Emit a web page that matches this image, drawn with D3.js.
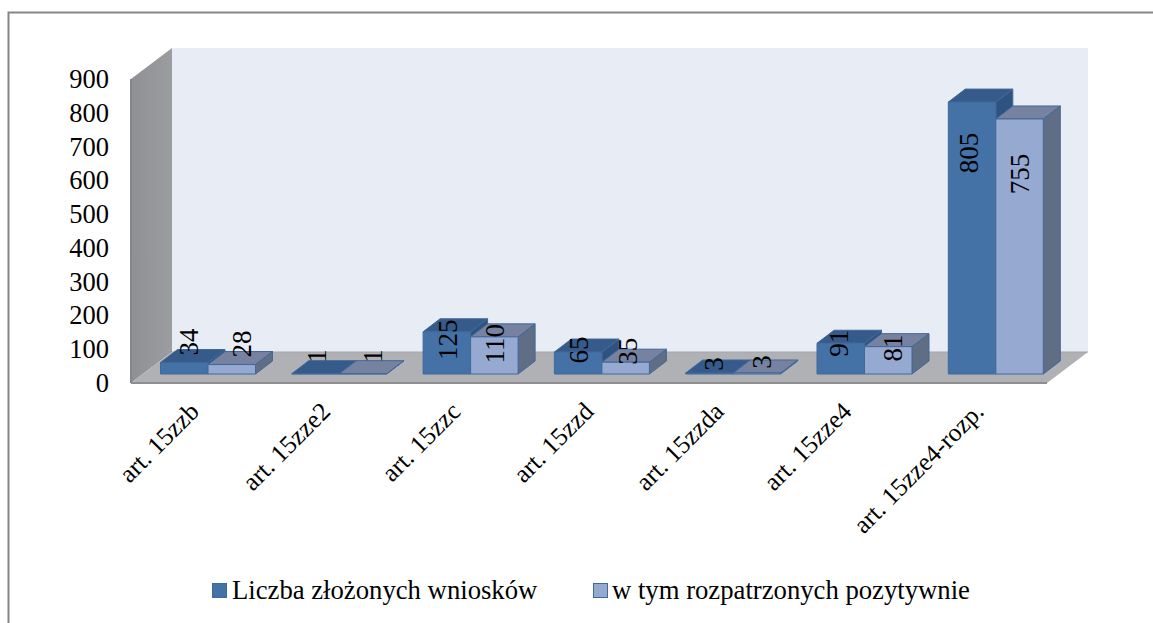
<!DOCTYPE html>
<html><head><meta charset="utf-8">
<script src="https://cdn.jsdelivr.net/npm/d3@7/dist/d3.min.js"></script>
<style>html,body{margin:0;padding:0;background:#fff}svg{display:block}text{font-family:"Liberation Serif",serif;fill:#000}</style>
</head><body><div id="c"></div>
<script>
const categories=["art. 15zzb","art. 15zze2","art. 15zzc","art. 15zzd","art. 15zzda","art. 15zze4","art. 15zze4-rozp."];
const submitted=[34,1,125,65,3,91,805];
const approved=[28,1,110,35,3,81,755];
const seriesNames=["Liczba złożonych wniosków","w tym rozpatrzonych pozytywnie"];
const yTicks=[0,100,200,300,400,500,600,700,800,900];
// label placement offsets (px) relative to the bar's top front edge and centre
const nudgeA=[-20.5,-17.7,8,-2,-9,0,51];
const nudgeB=[-20.5,-17.7,7,-11,-11,1.4,55];
const nudgeXA=[4.75,1.5,1,1,4.5,-2,-3];
const nudgeXB=[10.25,10,1,2.5,5,5,0];
const catEnd=[40,40,39,40.5,39.5,36,37];

const W=1153,H=623;
const svg=d3.select("#c").append("svg").attr("width",W).attr("height",H);
const defs=svg.append("defs");
const lg=defs.append("linearGradient").attr("id","wall").attr("x1",0).attr("x2",1).attr("y1",0).attr("y2",0);
lg.append("stop").attr("offset",0).attr("stop-color","#8f9094");
lg.append("stop").attr("offset",1).attr("stop-color","#9c9da1");

svg.append("path").attr("d",`M8.5 ${H}V12.5H${W}`).attr("fill","none").attr("stroke","#858585").attr("stroke-width",2);

const wallDX=41,wallDY=31;
const yFront=d3.scaleLinear().domain([0,900]).range([383,79]);   // axis edge
const yBar=d3.scaleLinear().domain([0,900]).range([374,70]);     // bar plane
const x=d3.scaleBand().domain(categories).range([160.5,1079.6]).paddingInner(0).paddingOuter(0);
const barW=47.5, dx=17, dy=13;
const poly=(pts,fill,stroke)=>svg.append("polygon").attr("points",pts.map(p=>p.join(",")).join(" ")).attr("fill",fill).attr("stroke",stroke||"none");

const y0=yFront(0),yT=yFront(900),xL=131;
const xR=1047;
poly([[xL+wallDX,yT-wallDY],[xR+wallDX-0,yT-wallDY],[xR+wallDX,y0-wallDY],[xL+wallDX,y0-wallDY]],"#e8ecf5");
poly([[xL,yT],[xL+wallDX,yT-wallDY],[xL+wallDX,y0-wallDY],[xL,y0]],"url(#wall)");
poly([[xL,y0],[xL+wallDX,y0-wallDY],[xR+wallDX,y0-wallDY],[xR,y0]],"#b0b1b4");
svg.append("line").attr("x1",xL).attr("x2",xR).attr("y1",y0).attr("y2",y0).attr("stroke","#8e8e90").attr("stroke-width",2);
svg.append("line").attr("x1",xL+wallDX).attr("x2",xR+wallDX).attr("y1",y0-wallDY).attr("y2",y0-wallDY).attr("stroke","#a5a6a9").attr("stroke-width",1);
svg.append("line").attr("x1",xL).attr("x2",xL).attr("y1",yT).attr("y2",y0).attr("stroke","#85868a").attr("stroke-width",2);

yTicks.forEach(t=>svg.append("text").attr("x",109).attr("y",yFront(t)).attr("text-anchor","end").attr("dominant-baseline","central").attr("font-size",26.5).text(t));

const colors=[{f:"#4472a7",t:"#365a89",s:"#2f5381"},{f:"#96a9d1",t:"#76829f",s:"#5f6d85"}];
const stroke="#40689a";
function bar(cat,v,i){
  const xa=x(cat)+i*barW, xb=xa+barW, yb=yBar(0), yt=yBar(v), c=colors[i];
  poly([[xb,yt],[xb+dx,yt-dy],[xb+dx,yb-dy],[xb,yb]],c.s,stroke);
  poly([[xa,yt],[xa+dx,yt-dy],[xb+dx,yt-dy],[xb,yt]],c.t,stroke);
  poly([[xa,yt],[xb,yt],[xb,yb],[xa,yb]],c.f,stroke);
}
categories.forEach((c,j)=>{bar(c,submitted[j],0);bar(c,approved[j],1);});
const lab=(cat,v,i,n,nx)=>{
  const cx=x(cat)+i*barW+barW/2+nx, cy=yBar(v)+n;
  svg.append("text").attr("transform",`translate(${cx},${cy}) rotate(-90)`).attr("text-anchor","middle").attr("dominant-baseline","central").attr("font-size",27).text(v);
};
categories.forEach((c,j)=>{lab(c,submitted[j],0,nudgeA[j],nudgeXA[j]);lab(c,approved[j],1,nudgeB[j],nudgeXB[j]);});

categories.forEach((c,j)=>{
  const cx=x(c)+catEnd[j];
  svg.append("text").attr("transform",`translate(${cx},${413}) rotate(-45)`).attr("text-anchor","end").attr("font-size",25.5).text(c);
});

const leg=[[212,232],[593,612]];
seriesNames.forEach((n,i)=>{
  svg.append("rect").attr("x",leg[i][0]+.5).attr("y",583.5).attr("width",14).attr("height",14).attr("fill",colors[i].f).attr("stroke",stroke);
  svg.append("text").attr("x",leg[i][1]).attr("y",598.5).attr("font-size",26.7).text(n);
});
</script></body></html>
